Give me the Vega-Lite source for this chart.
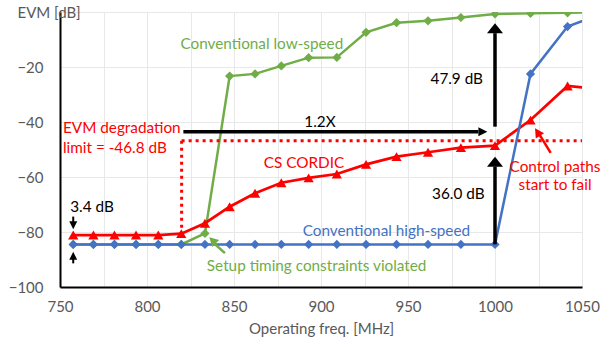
{
  "$schema": "https://vega.github.io/schema/vega-lite/v6.json",
  "width": 522,
  "height": 275,
  "autosize": {"type": "none"},
  "padding": {"left": 60, "top": 12, "right": 31, "bottom": 60},
  "config": {"view": {"stroke": null}, "font": "Lato"},
  "datasets": {
    "curves": [
      {"series": "low", "f": 757.6, "evm": -84.5}, {"series": "low", "f": 769.2, "evm": -84.5}, {"series": "low", "f": 781.3, "evm": -84.5}, {"series": "low", "f": 793.7, "evm": -84.5}, {"series": "low", "f": 806.5, "evm": -84.5}, {"series": "low", "f": 819.7, "evm": -84.5}, {"series": "low", "f": 833.3, "evm": -80.5}, {"series": "low", "f": 847.5, "evm": -23.3}, {"series": "low", "f": 862.1, "evm": -22.5}, {"series": "low", "f": 877.2, "evm": -19.6}, {"series": "low", "f": 892.9, "evm": -16.6}, {"series": "low", "f": 909.1, "evm": -16.5}, {"series": "low", "f": 925.9, "evm": -7.4}, {"series": "low", "f": 943.4, "evm": -3.9}, {"series": "low", "f": 961.5, "evm": -3.2}, {"series": "low", "f": 980.4, "evm": -2.0}, {"series": "low", "f": 1000, "evm": -0.7}, {"series": "low", "f": 1020.4, "evm": -0.5}, {"series": "low", "f": 1041.7, "evm": -0.3}, {"series": "low", "f": 1063.8, "evm": 0},
      {"series": "cs", "f": 757.6, "evm": -81.1}, {"series": "cs", "f": 769.2, "evm": -81.1}, {"series": "cs", "f": 781.3, "evm": -81.1}, {"series": "cs", "f": 793.7, "evm": -81.1}, {"series": "cs", "f": 806.5, "evm": -81.1}, {"series": "cs", "f": 819.7, "evm": -80.6}, {"series": "cs", "f": 833.3, "evm": -76.8}, {"series": "cs", "f": 847.5, "evm": -70.8}, {"series": "cs", "f": 862.1, "evm": -65.9}, {"series": "cs", "f": 877.2, "evm": -62.1}, {"series": "cs", "f": 892.9, "evm": -60.3}, {"series": "cs", "f": 909.1, "evm": -58.9}, {"series": "cs", "f": 925.9, "evm": -55.4}, {"series": "cs", "f": 943.4, "evm": -52.6}, {"series": "cs", "f": 961.5, "evm": -51.0}, {"series": "cs", "f": 980.4, "evm": -49.3}, {"series": "cs", "f": 1000, "evm": -48.6}, {"series": "cs", "f": 1020.4, "evm": -39.3}, {"series": "cs", "f": 1041.7, "evm": -26.9}, {"series": "cs", "f": 1063.8, "evm": -28.2},
      {"series": "high", "f": 757.6, "evm": -84.5}, {"series": "high", "f": 769.2, "evm": -84.5}, {"series": "high", "f": 781.3, "evm": -84.5}, {"series": "high", "f": 793.7, "evm": -84.5}, {"series": "high", "f": 806.5, "evm": -84.5}, {"series": "high", "f": 819.7, "evm": -84.5}, {"series": "high", "f": 833.3, "evm": -84.5}, {"series": "high", "f": 847.5, "evm": -84.5}, {"series": "high", "f": 862.1, "evm": -84.5}, {"series": "high", "f": 877.2, "evm": -84.5}, {"series": "high", "f": 892.9, "evm": -84.5}, {"series": "high", "f": 909.1, "evm": -84.5}, {"series": "high", "f": 925.9, "evm": -84.5}, {"series": "high", "f": 943.4, "evm": -84.5}, {"series": "high", "f": 961.5, "evm": -84.5}, {"series": "high", "f": 980.4, "evm": -84.5}, {"series": "high", "f": 1000, "evm": -84.5}, {"series": "high", "f": 1020.4, "evm": -22.5}, {"series": "high", "f": 1041.7, "evm": -5.3}, {"series": "high", "f": 1063.8, "evm": 0}
    ],
    "redDotted": [
      {"f": 819.9, "evm": -46.8, "f2": 1050, "evm2": -46.8},
      {"f": 819.9, "evm": -46.8, "f2": 819.9, "evm2": -80.2}
    ],
    "blackShafts": [
      {"f": 820.9, "evm": -43.5, "f2": 990.4, "evm2": -43.5},
      {"f": 1000, "evm": -41.7, "f2": 1000, "evm2": -7.7},
      {"f": 1000, "evm": -84.5, "f2": 1000, "evm2": -56.2}
    ],
    "thinShafts": [
      {"f": 757.6, "evm": -74.4, "f2": 757.6, "evm2": -76.5},
      {"f": 757.6, "evm": -91.4, "f2": 757.6, "evm2": -89.6}
    ],
    "redShaft": [{"f": 1032, "evm": -51.2, "f2": 1025.4, "evm2": -44.4}],
    "greenShaft": [{"f": 844.8, "evm": -87.7, "f2": 838.0, "evm2": -83.8}]
  },
  "layer": [
    {
      "data": {"name": "curves"},
      "transform": [{"filter": "datum.series == 'low'"}],
      "mark": {"type": "line", "color": "#70AD47", "strokeWidth": 2.5, "clip": true},
      "encoding": {
        "x": {"field": "f", "type": "quantitative", "scale": {"domain": [750, 1050], "nice": false, "zero": false},
          "axis": {"title": "Operating freq. [MHz]", "values": [750, 775, 800, 825, 850, 875, 900, 925, 950, 975, 1000, 1025, 1050],
            "labelExpr": "datum.value % 50 == 0 ? format(datum.value, 'd') : ''", "labelOverlap": false, "labelFlush": false,
            "grid": true, "gridColor": "#e8e8e8", "ticks": false, "domainColor": "#000000", "domainWidth": 2,
            "labelColor": "#595959", "labelFontSize": 15, "labelPadding": 12, "labelFont": "Lato",
            "titleColor": "#595959", "titleFontSize": 15, "titleFontWeight": "normal", "titlePadding": 7, "titleFont": "Lato"}},
        "y": {"field": "evm", "type": "quantitative", "scale": {"domain": [-100, 0], "nice": false, "zero": false},
          "axis": {"title": "EVM [dB]", "values": [-100, -90, -80, -70, -60, -50, -40, -30, -20, -10, 0],
            "labelExpr": "datum.value % 20 == 0 && datum.value != 0 ? format(datum.value, 'd') : ''", "labelOverlap": false, "labelFlush": false,
            "grid": true, "gridColor": "#e8e8e8", "ticks": false, "domainColor": "#000000", "domainWidth": 2,
            "labelColor": "#595959", "labelFontSize": 15, "labelPadding": 17, "labelFont": "Lato",
            "titleColor": "#595959", "titleFontSize": 15, "titleFontWeight": "normal", "titleFont": "Lato",
            "titleAngle": 0, "titleAlign": "left", "titleBaseline": "middle", "titleX": -43, "titleY": 0}}
      }
    },
    {
      "data": {"name": "curves"},
      "transform": [{"filter": "datum.series == 'low'"}],
      "mark": {"type": "point", "shape": "diamond", "filled": true, "opacity": 1, "color": "#70AD47", "size": 85, "clip": true},
      "encoding": {"x": {"field": "f", "type": "quantitative"}, "y": {"field": "evm", "type": "quantitative"}}
    },
    {
      "data": {"name": "curves"},
      "transform": [{"filter": "datum.series == 'cs'"}],
      "mark": {"type": "line", "color": "#FF0000", "strokeWidth": 2.7, "clip": true},
      "encoding": {"x": {"field": "f", "type": "quantitative"}, "y": {"field": "evm", "type": "quantitative"}}
    },
    {
      "data": {"name": "curves"},
      "transform": [{"filter": "datum.series == 'cs'"}],
      "mark": {"type": "point", "shape": "triangle-up", "filled": true, "opacity": 1, "color": "#FF0000", "size": 105, "clip": true},
      "encoding": {"x": {"field": "f", "type": "quantitative"}, "y": {"field": "evm", "type": "quantitative"}}
    },
    {
      "data": {"name": "curves"},
      "transform": [{"filter": "datum.series == 'high'"}],
      "mark": {"type": "line", "color": "#4472C4", "strokeWidth": 2.5, "clip": true},
      "encoding": {"x": {"field": "f", "type": "quantitative"}, "y": {"field": "evm", "type": "quantitative"}}
    },
    {
      "data": {"name": "curves"},
      "transform": [{"filter": "datum.series == 'high'"}],
      "mark": {"type": "point", "shape": "diamond", "filled": true, "opacity": 1, "color": "#4472C4", "size": 85, "clip": true},
      "encoding": {"x": {"field": "f", "type": "quantitative"}, "y": {"field": "evm", "type": "quantitative"}}
    },
    {
      "data": {"name": "redDotted"},
      "mark": {"type": "rule", "color": "#FF0000", "strokeWidth": 3, "strokeDash": [3, 4]},
      "encoding": {"x": {"field": "f", "type": "quantitative"}, "x2": {"field": "f2"}, "y": {"field": "evm", "type": "quantitative"}, "y2": {"field": "evm2"}}
    },
    {
      "data": {"name": "blackShafts"},
      "mark": {"type": "rule", "color": "#000000", "strokeWidth": 3.5},
      "encoding": {"x": {"field": "f", "type": "quantitative"}, "x2": {"field": "f2"}, "y": {"field": "evm", "type": "quantitative"}, "y2": {"field": "evm2"}}
    },
    {
      "data": {"name": "thinShafts"},
      "mark": {"type": "rule", "color": "#000000", "strokeWidth": 2},
      "encoding": {"x": {"field": "f", "type": "quantitative"}, "x2": {"field": "f2"}, "y": {"field": "evm", "type": "quantitative"}, "y2": {"field": "evm2"}}
    },
    {
      "data": {"name": "redShaft"},
      "mark": {"type": "rule", "color": "#FF0000", "strokeWidth": 2.5},
      "encoding": {"x": {"field": "f", "type": "quantitative"}, "x2": {"field": "f2"}, "y": {"field": "evm", "type": "quantitative"}, "y2": {"field": "evm2"}}
    },
    {
      "data": {"name": "greenShaft"},
      "mark": {"type": "rule", "color": "#70AD47", "strokeWidth": 2.5},
      "encoding": {"x": {"field": "f", "type": "quantitative"}, "x2": {"field": "f2"}, "y": {"field": "evm", "type": "quantitative"}, "y2": {"field": "evm2"}}
    },
    {
      "data": {"values": [{"f": 1000, "evm": -4.1}, {"f": 1000, "evm": -52.6}]},
      "mark": {"type": "point", "shape": "M0,0L0.8,1L-0.8,1Z", "filled": true, "opacity": 1, "color": "#000000", "size": 400, "strokeWidth": 0},
      "encoding": {"x": {"field": "f", "type": "quantitative"}, "y": {"field": "evm", "type": "quantitative"}}
    },
    {
      "data": {"values": [{"f": 995.6, "evm": -43.5}]},
      "mark": {"type": "point", "shape": "M0,0L0.5,1L-0.5,1Z", "filled": true, "opacity": 1, "color": "#000000", "size": 324, "angle": 90, "strokeWidth": 0},
      "encoding": {"x": {"field": "f", "type": "quantitative"}, "y": {"field": "evm", "type": "quantitative"}}
    },
    {
      "data": {"values": [{"f": 757.6, "evm": -79.0}]},
      "mark": {"type": "point", "shape": "M0,0L0.5,1L-0.5,1Z", "filled": true, "opacity": 1, "color": "#000000", "size": 256, "angle": 180, "strokeWidth": 0},
      "encoding": {"x": {"field": "f", "type": "quantitative"}, "y": {"field": "evm", "type": "quantitative"}}
    },
    {
      "data": {"values": [{"f": 757.6, "evm": -87.2}]},
      "mark": {"type": "point", "shape": "M0,0L0.5,1L-0.5,1Z", "filled": true, "opacity": 1, "color": "#000000", "size": 256, "angle": 0, "strokeWidth": 0},
      "encoding": {"x": {"field": "f", "type": "quantitative"}, "y": {"field": "evm", "type": "quantitative"}}
    },
    {
      "data": {"values": [{"f": 1023, "evm": -42.3}]},
      "mark": {"type": "point", "shape": "M0,0L0.55,1L-0.55,1Z", "filled": true, "opacity": 1, "color": "#FF0000", "size": 324, "angle": 327, "strokeWidth": 0},
      "encoding": {"x": {"field": "f", "type": "quantitative"}, "y": {"field": "evm", "type": "quantitative"}}
    },
    {
      "data": {"values": [{"f": 835.8, "evm": -81.9}]},
      "mark": {"type": "point", "shape": "M0,0L0.55,1L-0.55,1Z", "filled": true, "opacity": 1, "color": "#70AD47", "size": 324, "angle": 315, "strokeWidth": 0},
      "encoding": {"x": {"field": "f", "type": "quantitative"}, "y": {"field": "evm", "type": "quantitative"}}
    },
    {
      "data": {"values": [
        {"f": 866, "evm": -11.6, "t": "Conventional low-speed"},
        {"f": 897.5, "evm": -92.3, "t": "Setup timing constraints violated"}
      ]},
      "mark": {"type": "text", "font": "Lato", "fontSize": 15.3, "color": "#70AD47", "align": "center", "baseline": "middle"},
      "encoding": {"x": {"field": "f", "type": "quantitative"}, "y": {"field": "evm", "type": "quantitative"}, "text": {"field": "t"}}
    },
    {
      "data": {"values": [
        {"f": 890.2, "evm": -55, "t": "CS CORDIC"},
        {"f": 1034.5, "evm": -56.3, "t": "Control paths"},
        {"f": 1034.5, "evm": -62.9, "t": "start to fail"}
      ]},
      "mark": {"type": "text", "font": "Lato", "fontSize": 15.3, "color": "#FF0000", "align": "center", "baseline": "middle"},
      "encoding": {"x": {"field": "f", "type": "quantitative"}, "y": {"field": "evm", "type": "quantitative"}, "text": {"field": "t"}}
    },
    {
      "data": {"values": [
        {"f": 751.7, "evm": -42.2, "t": "EVM degradation"},
        {"f": 751.7, "evm": -49.5, "t": "limit = -46.8 dB"}
      ]},
      "mark": {"type": "text", "font": "Lato", "fontSize": 15.3, "color": "#FF0000", "align": "left", "baseline": "middle"},
      "encoding": {"x": {"field": "f", "type": "quantitative"}, "y": {"field": "evm", "type": "quantitative"}, "text": {"field": "t"}}
    },
    {
      "data": {"values": [
        {"f": 889.5, "evm": -79.6, "t": "Conventional high-speed"}
      ]},
      "mark": {"type": "text", "font": "Lato", "fontSize": 15.3, "color": "#4472C4", "align": "left", "baseline": "middle"},
      "encoding": {"x": {"field": "f", "type": "quantitative"}, "y": {"field": "evm", "type": "quantitative"}, "text": {"field": "t"}}
    },
    {
      "data": {"values": [
        {"f": 899.4, "evm": -39.9, "t": "1.2X"},
        {"f": 768.4, "evm": -70.8, "t": "3.4 dB"}
      ]},
      "mark": {"type": "text", "font": "Lato", "fontSize": 15.3, "color": "#000000", "align": "center", "baseline": "middle"},
      "encoding": {"x": {"field": "f", "type": "quantitative"}, "y": {"field": "evm", "type": "quantitative"}, "text": {"field": "t"}}
    },
    {
      "data": {"values": [
        {"f": 993.1, "evm": -24.5, "t": "47.9 dB"},
        {"f": 994, "evm": -66.2, "t": "36.0 dB"}
      ]},
      "mark": {"type": "text", "font": "Lato", "fontSize": 15.3, "color": "#000000", "align": "right", "baseline": "middle"},
      "encoding": {"x": {"field": "f", "type": "quantitative"}, "y": {"field": "evm", "type": "quantitative"}, "text": {"field": "t"}}
    }
  ]
}
